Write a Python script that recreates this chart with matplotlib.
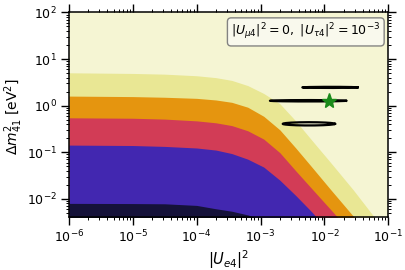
import numpy as np
import matplotlib
matplotlib.use('Agg')
import matplotlib.pyplot as plt

# Contour band boundaries (|U_e4|^2, dm2_41 in eV^2)
b5_x = [1e-6, 1e-5, 3.16e-5, 1e-4, 2.0e-4, 3.55e-4, 6.3e-4, 1.12e-3, 2.0e-3, 3.55e-3, 6.3e-3, 1.26e-2, 2.82e-2, 5.97e-2, 7.1e-2]
b5_y = [5.06, 4.90, 4.73, 4.37, 3.98, 3.47, 2.69, 1.82, 1.10, 0.468, 0.182, 0.0589, 0.0155, 0.0041, 0.0030]

b4_x = [1e-6, 1e-5, 3.16e-5, 1e-4, 2.0e-4, 3.55e-4, 6.3e-4, 1.12e-3, 2.0e-3, 3.55e-3, 6.3e-3, 1.26e-2, 3.02e-2, 3.63e-2]
b4_y = [1.60, 1.56, 1.51, 1.43, 1.32, 1.175, 0.923, 0.589, 0.302, 0.123, 0.0484, 0.0155, 0.00379, 0.00282]

b3_x = [1e-6, 1e-5, 3.16e-5, 1e-4, 2.0e-4, 3.55e-4, 6.3e-4, 1.12e-3, 2.0e-3, 3.55e-3, 6.3e-3, 1.12e-2, 1.58e-2, 1.9e-2]
b3_y = [0.547, 0.535, 0.513, 0.470, 0.427, 0.372, 0.288, 0.191, 0.0977, 0.0398, 0.0166, 0.00692, 0.00411, 0.00302]

b2_x = [1e-6, 1e-5, 3.16e-5, 1e-4, 2.0e-4, 3.55e-4, 6.3e-4, 1.12e-3, 2.0e-3, 3.55e-3, 6.3e-3, 8.1e-3, 1.0e-2]
b2_y = [0.142, 0.139, 0.133, 0.123, 0.111, 0.0933, 0.0708, 0.0479, 0.0251, 0.01175, 0.00525, 0.00355, 0.00263]

b1_x = [1e-6, 1e-5, 3.16e-5, 1e-4, 2.0e-4, 3.55e-4, 6.3e-4, 7.7e-4, 1.0e-3]
b1_y = [0.00796, 0.00789, 0.00780, 0.00720, 0.00610, 0.00540, 0.00450, 0.00410, 0.00320]

# Best-fit islands (thin ellipses in log-log space)
ell_xlo = [4.5e-3, 1.40e-3, 2.22e-3]
ell_xhi = [3.3e-2, 2.18e-2, 1.46e-2]
ell_y = [2.46, 1.27, 0.406]
ell_dy = [0.012, 0.015, 0.035]   # half height, decades

best_x = 1.18e-2
best_y = 1.27

boundaries = [(b5_x, b5_y), (b4_x, b4_y), (b3_x, b3_y), (b2_x, b2_y), (b1_x, b1_y)]
colors = ['#e9e794', '#e5950f', '#d23c56', '#4227b0', '#15123a']

fig = plt.figure(figsize=(4.05, 2.70), dpi=100)
ax = fig.add_axes([0.170, 0.197, 0.789, 0.757])
ax.set_facecolor('#f5f5d3')

for (bx, by), c in zip(boundaries, colors):
    ax.fill_between(bx, by, 1e-4, color=c, lw=0, zorder=1)

t = np.linspace(0, 2*np.pi, 300)
for xlo, xhi, yc, dy in zip(ell_xlo, ell_xhi, ell_y, ell_dy):
    cx = 0.5*(np.log10(xlo) + np.log10(xhi))
    a = 0.5*(np.log10(xhi) - np.log10(xlo))
    cy = np.log10(yc)
    ax.plot(10**(cx + a*np.cos(t)), 10**(cy + dy*np.sin(t)), color='black', lw=1.6, zorder=3)

ax.plot(best_x, best_y, marker='*', color='#1a8a1a', markersize=11, mec='#1a8a1a', zorder=4)

ax.set_xscale('log')
ax.set_yscale('log')
ax.set_xlim(1e-6, 1e-1)
ax.set_ylim(4.1e-3, 1e2)

ax.text(0.975, 0.955, r'$|U_{\mu4}|^2 = 0,\ |U_{\tau4}|^2 = 10^{-3}$',
        transform=ax.transAxes, ha='right', va='top', fontsize=9, zorder=5,
        bbox=dict(boxstyle='round,pad=0.3', fc='#fafaf0', ec='#777777', alpha=0.9))

ax.set_xlabel(r'$|U_{e4}|^2$', fontsize=10.5)
ax.set_ylabel(r'$\Delta m^2_{41}$ [eV$^2$]', fontsize=10, va='center')
ax.xaxis.set_label_coords(0.5, -0.155)
ax.yaxis.set_label_coords(-0.172, 0.49)

ax.tick_params(which='both', direction='out', top=True, right=True, labelsize=9, pad=2.5)
ax.tick_params(which='major', length=6, width=1)
ax.tick_params(which='minor', length=2.5, width=0.7)
ax.yaxis.set_major_locator(matplotlib.ticker.LogLocator(base=10, numticks=10))
ax.yaxis.set_minor_locator(matplotlib.ticker.LogLocator(base=10, subs=np.arange(2, 10), numticks=10))
ax.xaxis.set_minor_locator(matplotlib.ticker.LogLocator(base=10, subs=np.arange(2, 10), numticks=10))
for s in ax.spines.values():
    s.set_linewidth(1.1)
    s.set_zorder(6)

fig.savefig('out.png', dpi=100)
